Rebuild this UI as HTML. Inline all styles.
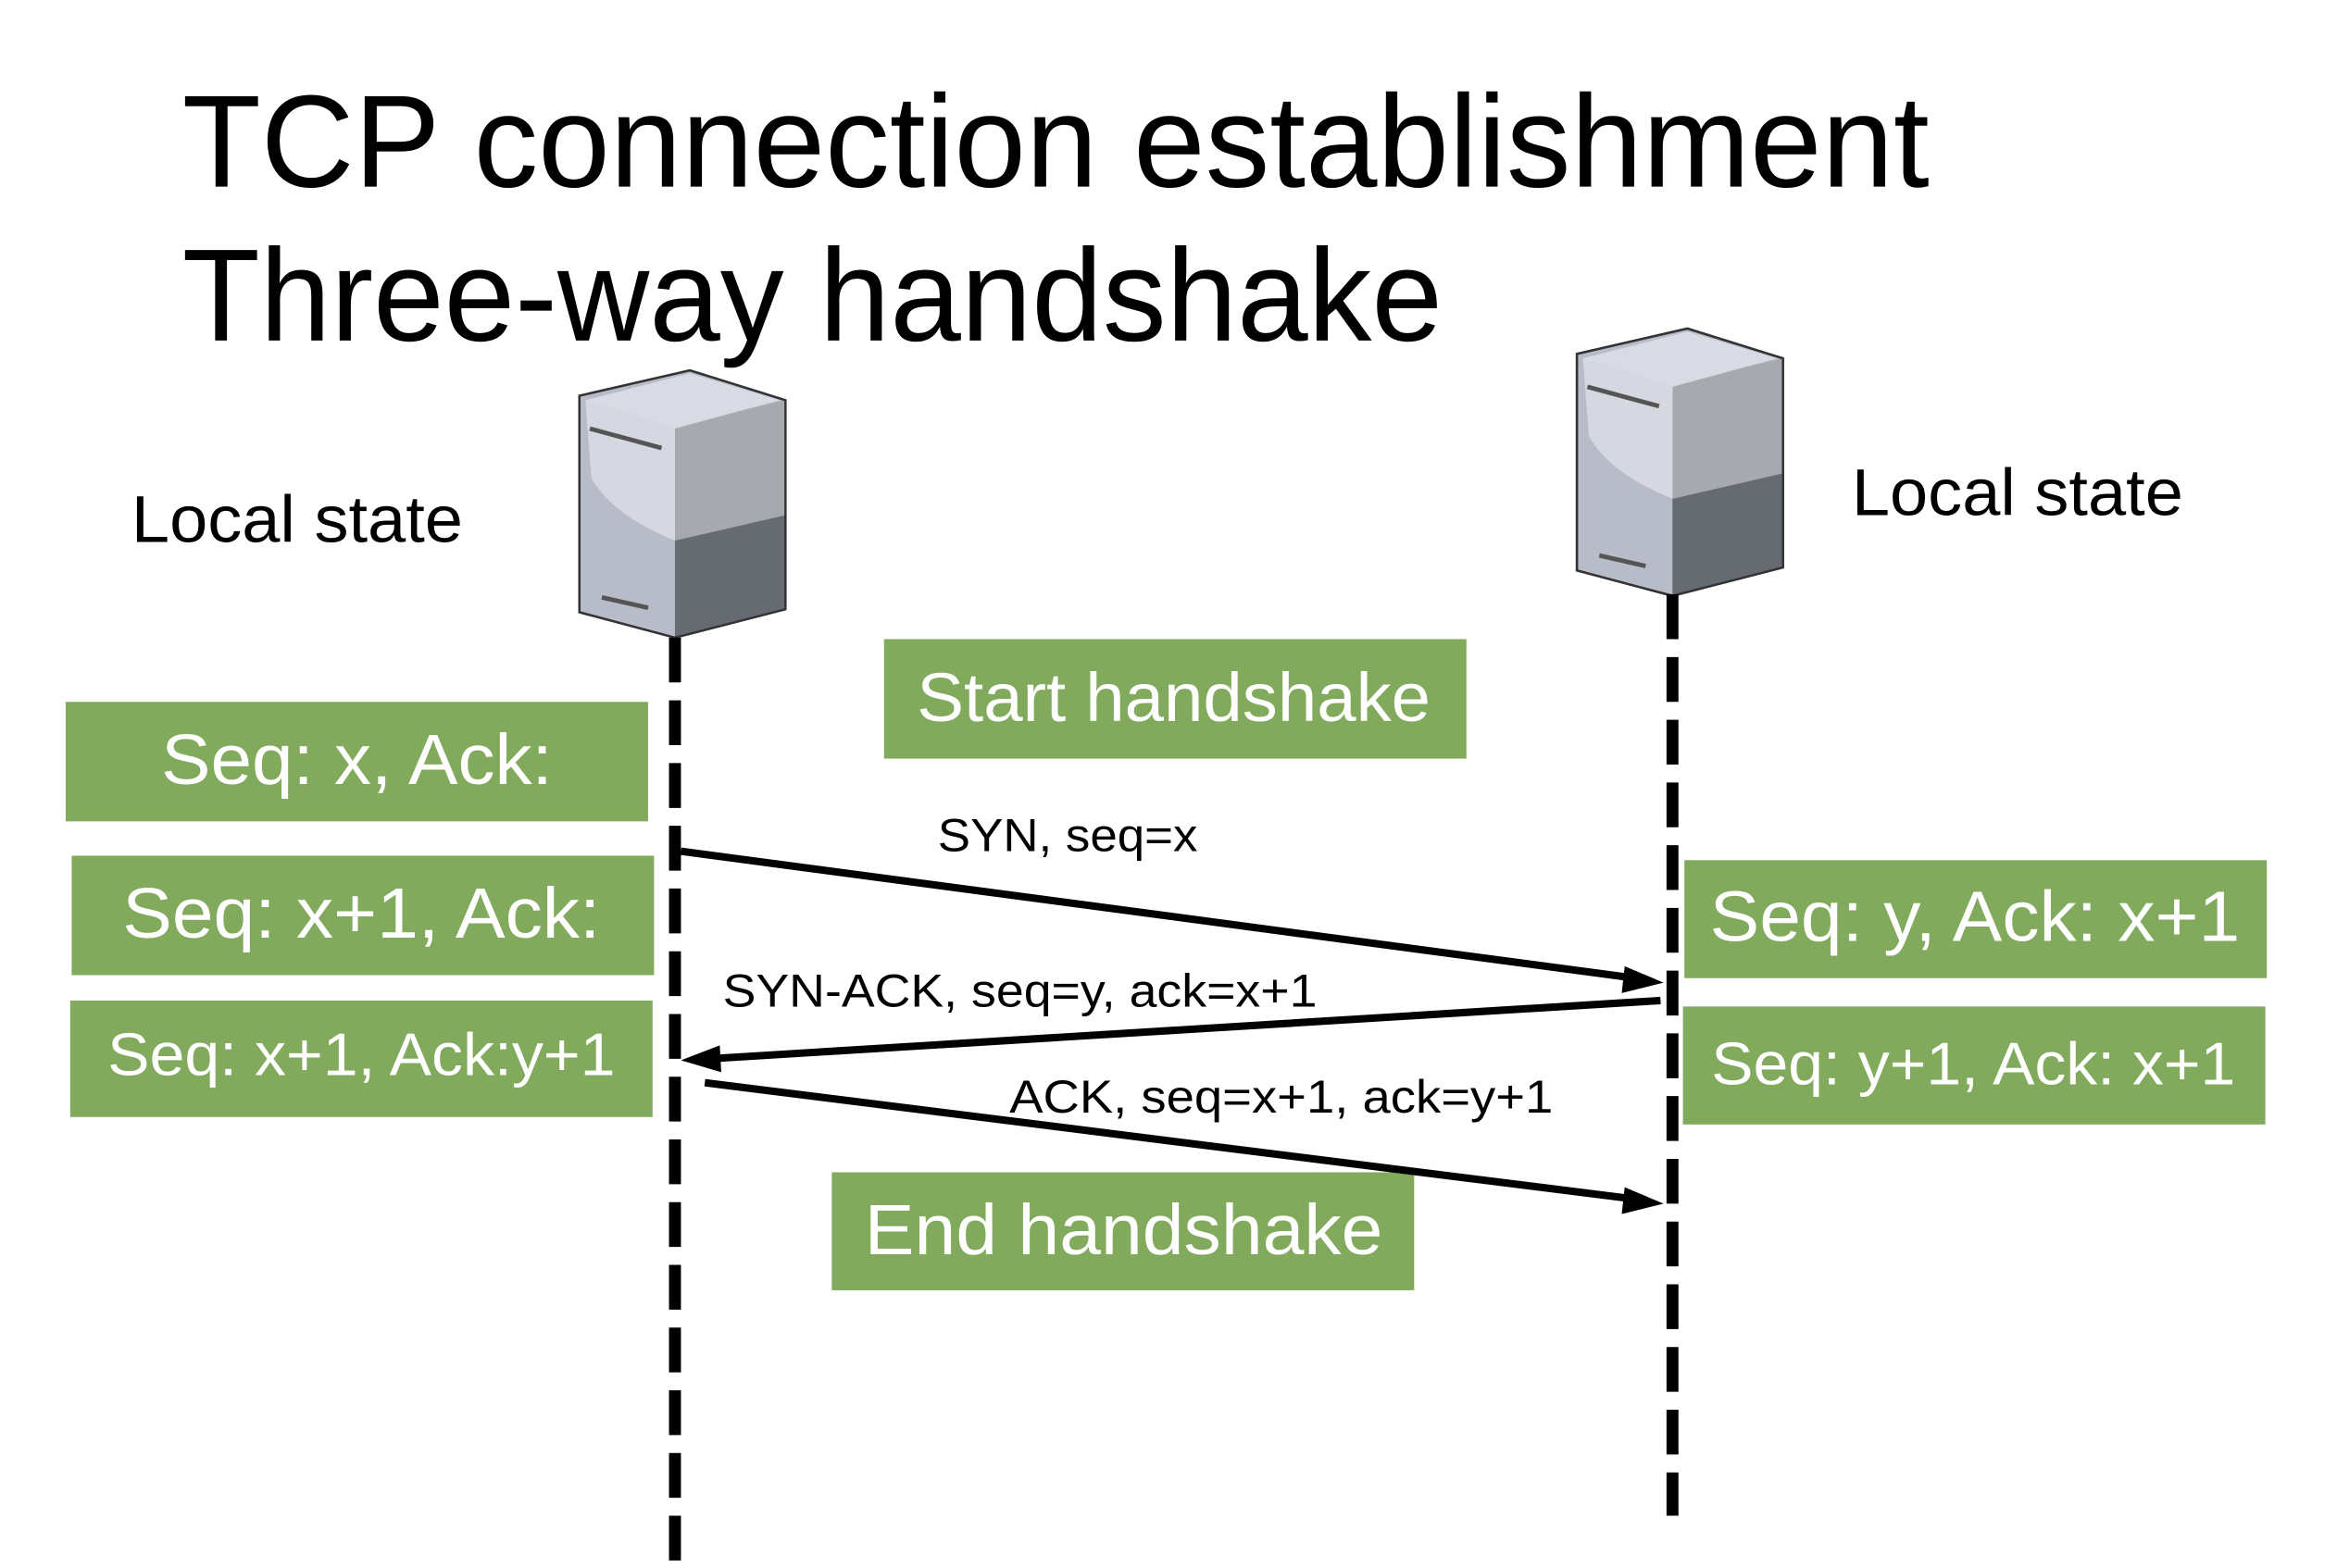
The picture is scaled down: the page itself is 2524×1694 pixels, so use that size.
<!DOCTYPE html>
<html><head><meta charset="utf-8"><style>html,body{margin:0;padding:0;background:#fff}svg{display:block}</style></head>
<body>
<svg width="2524" height="1694" viewBox="0 0 1565 1050" preserveAspectRatio="none" xmlns="http://www.w3.org/2000/svg" font-family="Liberation Sans, sans-serif">
<rect width="1565" height="1050" fill="#fff"/>
<text x="122" y="125" font-size="88" textLength="1170" lengthAdjust="spacingAndGlyphs">TCP connection establishment</text>
<text x="122" y="228" font-size="88" textLength="844" lengthAdjust="spacingAndGlyphs">Three-way handshake</text>
<text x="88" y="363" font-size="44" textLength="222" lengthAdjust="spacingAndGlyphs">Local state</text>
<text x="1240" y="345" font-size="44" textLength="222" lengthAdjust="spacingAndGlyphs">Local state</text>
<g id="srv">
<polygon points="388,265 462,248 526,268 526,408 452,427 388,410" fill="#b8bcc8" stroke="#333" stroke-width="1.5"/>
<polygon points="452,285 526,268 526,408 452,427" fill="#a6a9ad"/>
<polygon points="452,362 526,345 526,408 452,427" fill="#666b72"/>
<path d="M392,268 L462,250 L522,268 L452,287 Z" fill="#d8dbe3"/>
<path d="M392,268 L452,287 L452,362 Q410,345 396,320 Z" fill="#d5d8e0"/>
<polygon points="388,265 462,248 526,268 526,408 452,427 388,410" fill="none" stroke="#333" stroke-width="1.5"/>
<line x1="395" y1="287" x2="443" y2="300" stroke="#555" stroke-width="3"/>
<line x1="403" y1="400" x2="434" y2="407" stroke="#555" stroke-width="3"/>
</g>
<use href="#srv" transform="translate(668,-28)"/>
<line x1="452" y1="427" x2="452" y2="1050" stroke="#000" stroke-width="8" stroke-dasharray="30,12"/>
<line x1="1120" y1="398" x2="1120" y2="1015" stroke="#000" stroke-width="8" stroke-dasharray="30,12"/>
<g fill="#82aa5d">
<rect x="592" y="428" width="390" height="80"/>
<rect x="44" y="470" width="390" height="80"/>
<rect x="48" y="573" width="390" height="80"/>
<rect x="47" y="670" width="390" height="78"/>
<rect x="1128" y="576" width="390" height="79"/>
<rect x="1127" y="674" width="390" height="79"/>
<rect x="557" y="785" width="390" height="79"/>
</g>
<g fill="#fff">
<text x="614" y="483" font-size="46" textLength="344" lengthAdjust="spacingAndGlyphs">Start handshake</text>
<text x="108" y="525" font-size="48" textLength="262" lengthAdjust="spacingAndGlyphs">Seq: x, Ack:</text>
<text x="82" y="628" font-size="48" textLength="320" lengthAdjust="spacingAndGlyphs">Seq: x+1, Ack:</text>
<text x="72" y="720" font-size="40" textLength="340" lengthAdjust="spacingAndGlyphs">Seq: x+1, Ack:y+1</text>
<text x="1145" y="630" font-size="48" textLength="355" lengthAdjust="spacingAndGlyphs">Seq: y, Ack: x+1</text>
<text x="1146" y="726" font-size="40" textLength="351" lengthAdjust="spacingAndGlyphs">Seq: y+1, Ack: x+1</text>
<text x="579" y="840" font-size="48" textLength="347" lengthAdjust="spacingAndGlyphs">End handshake</text>
</g>
<g stroke="#000" stroke-width="5">
<line x1="456" y1="570" x2="1095" y2="655"/>
<line x1="1112" y1="670" x2="475" y2="709"/>
<line x1="472" y1="725" x2="1095" y2="803"/>
</g>
<polygon points="1114,658 1088,647 1086,665" fill="#000"/>
<polygon points="456,710 482,700 483,718" fill="#000"/>
<polygon points="1114,806 1088,795 1086,813" fill="#000"/>
<g font-size="31">
<text x="628" y="570" textLength="174" lengthAdjust="spacingAndGlyphs">SYN, seq=x</text>
<text x="484" y="674" textLength="398" lengthAdjust="spacingAndGlyphs">SYN-ACK, seq=y, ack=x+1</text>
<text x="676" y="745" textLength="364" lengthAdjust="spacingAndGlyphs">ACK, seq=x+1, ack=y+1</text>
</g>
</svg>
</body></html>
